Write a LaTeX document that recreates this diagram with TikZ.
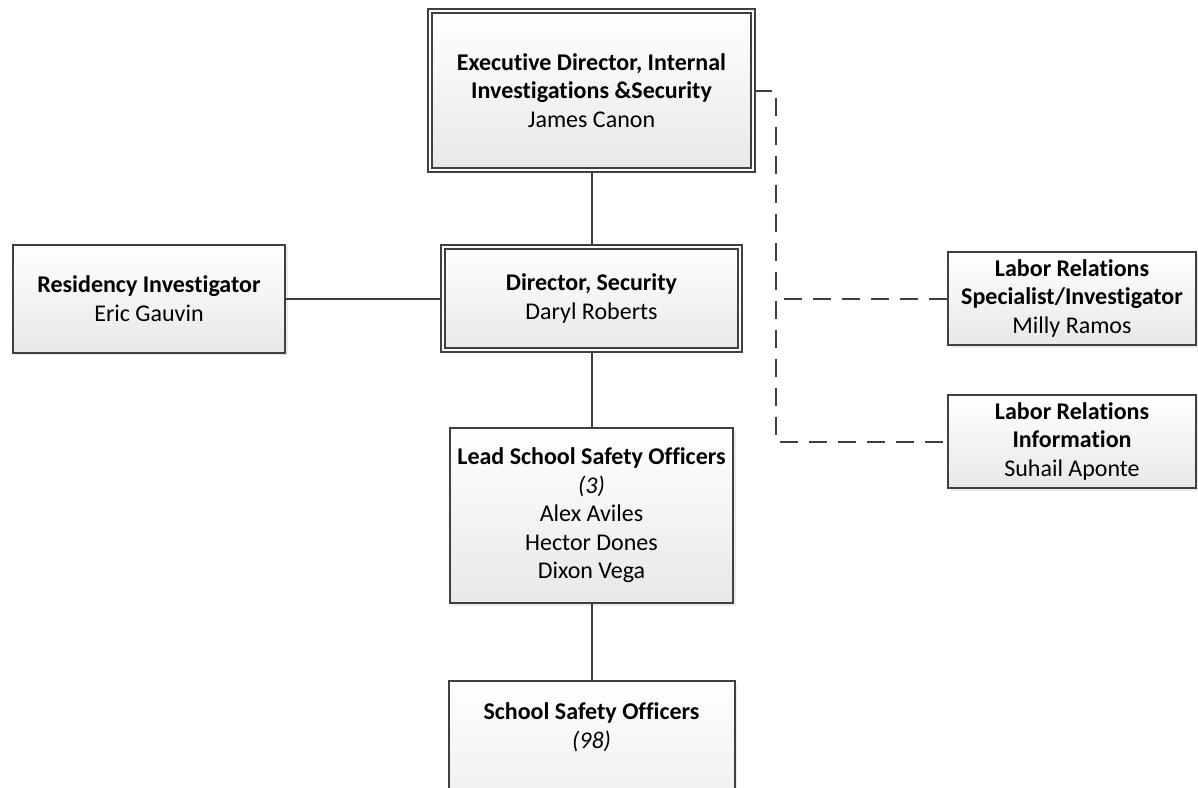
\documentclass[tikz,border=0pt]{standalone}
\usepackage{fontspec}
\setmainfont{Carlito}[Ligatures=NoCommon]
\usetikzlibrary{positioning,shadows}
\definecolor{linegray}{HTML}{404040}
\definecolor{boxgray}{HTML}{E8E8E8}
\tikzset{
  box/.style = {draw=linegray, line width=2pt, top color=white, bottom color=boxgray, rectangle, align=center, inner sep=0pt,
                font=\fontsize{24}{28.5}\selectfont,
                drop shadow={shadow xshift=2.5pt, shadow yshift=-2.5pt, fill=black, opacity=0.08}},
  headbox/.style = {box, line width=1.8pt, double=white, double distance=2pt},
  link/.style = {draw=linegray, line width=2pt},
  dashlink/.style = {link, dash pattern=on 18pt off 11pt},
}

\begin{document}
\begin{tikzpicture}
    \useasboundingbox (0,0) rectangle (1198pt,-787pt);
    \node [headbox, minimum width=323.5pt, minimum height=159.5pt] (exec) at (591.5pt,-90.5pt)
        {\textbf{Executive Director, Internal}\\\textbf{Investigations \&Security}\\James Canon};
    \node [headbox, node distance=208pt, below of=exec, minimum width=297.5pt, minimum height=103.5pt] (dir)
        {\textbf{Director, Security}\\Daryl Roberts};
    \node [box, node distance=442.5pt, left of=dir, minimum width=272pt, minimum height=108pt] (res)
        {\textbf{Residency Investigator}\\Eric Gauvin};
    \node [box, node distance=480.5pt, right of=dir, minimum width=248pt, minimum height=93pt] (milly)
        {\textbf{Labor Relations}\\\textbf{Specialist/Investigator}\\Milly Ramos};
    \node [box, node distance=143pt, below of=milly, minimum width=248pt, minimum height=93pt] (suhail)
        {\textbf{Labor Relations}\\\textbf{Information}\\Suhail Aponte};
    \node [box, node distance=217pt, below of=dir, minimum width=283pt, minimum height=175pt] (lead)
        {\textbf{Lead School Safety Officers}\\\textit{(3)}\\Alex Aviles\\Hector Dones\\Dixon Vega};
    \node [box, node distance=253pt, below of=lead, minimum width=286pt, minimum height=175pt] (school)
        {\textbf{School Safety Officers}\\\textit{(98)}\\~\\~\\~};

    \draw [link] (exec) -- (dir);
    \draw [link] (dir) -- (lead);
    \draw [link] (lead) -- (school);
    \draw [link] (res) -- (dir);

    % dotted-line reports
    \coordinate (trunk) at ([xshift=22pt]exec.east);
    \draw [dashlink] (exec.east) -- (trunk) |- (suhail);
    \draw [dashlink] (milly) -- (milly -| trunk);
\end{tikzpicture}
\end{document}
